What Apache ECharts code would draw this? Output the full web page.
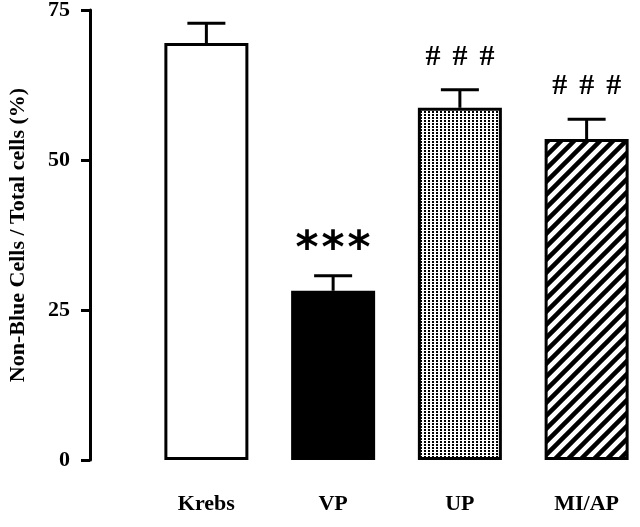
<!DOCTYPE html>
<html><head><meta charset="utf-8">
<script src="https://cdn.jsdelivr.net/npm/echarts@6/dist/echarts.min.js"></script>
<style>html,body{margin:0;padding:0;background:#fff}#c{width:640px;height:527px}</style>
</head><body><div id="c"></div>
<script>
const categories = ['Krebs', 'VP', 'UP', 'MI/AP'];
const means = [69.5, 28.2, 58.7, 53.5];
const errors = [3.3, 2.5, 3.0, 3.3];
const marks = ['', '***', '###', '###'];
const yTicks = [0, 25, 50, 75];

function dotPattern() {
  const c = document.createElement('canvas'); c.width = 4; c.height = 3;
  const g = c.getContext('2d');
  g.fillStyle = '#fff'; g.fillRect(0, 0, 4, 3);
  g.fillStyle = '#000'; g.fillRect(0, 0, 2, 2);
  return c;
}
function stripePattern() {
  const s = 13;
  const c = document.createElement('canvas'); c.width = s; c.height = s;
  const g = c.getContext('2d');
  g.fillStyle = '#fff'; g.fillRect(0, 0, s, s);
  g.strokeStyle = '#000'; g.lineWidth = 4.5;
  g.beginPath();
  g.moveTo(0, s); g.lineTo(s, 0);
  g.moveTo(-s / 2, s / 2); g.lineTo(s / 2, -s / 2);
  g.moveTo(s / 2, s * 1.5); g.lineTo(s * 1.5, s / 2);
  g.stroke();
  return c;
}
const fills = ['#ffffff', '#000000', { image: dotPattern(), repeat: 'repeat' }, { image: stripePattern(), repeat: 'repeat' }];
const serif = '"Liberation Serif", "Times New Roman", serif';

const chart = echarts.init(document.getElementById('c'), null, { renderer: 'canvas' });
chart.setOption({
  animation: false,
  backgroundColor: '#fff',
  grid: { left: 143, top: 10, width: 507, height: 450, containLabel: false, outerBoundsMode: 'none' },
  xAxis: {
    type: 'category', data: categories,
    axisLine: { show: false }, axisTick: { show: false },
    axisLabel: { margin: 33, color: '#000', fontFamily: serif, fontWeight: 'bold', fontSize: 22 }
  },
  yAxis: {
    type: 'value', min: yTicks[0], max: yTicks[yTicks.length - 1], interval: 25, offset: 53,
    axisLine: { show: true, lineStyle: { color: '#000', width: 3 } },
    axisTick: { show: true, length: 9, lineStyle: { color: '#000', width: 3 } },
    splitLine: { show: false },
    axisLabel: { margin: 20, color: '#000', fontFamily: serif, fontWeight: 'bold', fontSize: 22 },
    name: 'Non-Blue Cells / Total cells (%)', nameLocation: 'middle', nameGap: 61,
    nameTextStyle: { color: '#000', fontFamily: serif, fontWeight: 'bold', fontSize: 22 }
  },
  series: [
    {
      type: 'bar', barWidth: 84,
      data: means.map((v, i) => ({ value: v, itemStyle: { color: fills[i] } })),
      itemStyle: { borderColor: '#000', borderWidth: 3 }
    },
    {
      type: 'custom', clip: false, z: 5,
      data: means.map((v, i) => [i, v, errors[i]]),
      encode: { x: 0, y: 1 },
      renderItem: function (params, api) {
        const i = api.value(0);
        const base = api.coord([i, api.value(1)]);
        const top = api.coord([i, api.value(1) + api.value(2)]);
        const hw = 19;
        const ls = { stroke: '#000', lineWidth: 3 };
        const children = [
          { type: 'line', shape: { x1: base[0], y1: base[1], x2: top[0], y2: top[1] }, style: ls },
          { type: 'line', shape: { x1: top[0] - hw, y1: top[1], x2: top[0] + hw, y2: top[1] }, style: ls }
        ];
        const m = marks[params.dataIndex];
        if (m) {
          const isStar = m[0] === '*';
          const sp = isStar ? 26 : 27;
          for (let k = 0; k < m.length; k++) {
            children.push({
              type: 'text',
              style: {
                text: m[k], x: top[0] + (k - 1) * sp, y: top[1] - 33 + (isStar ? 8 : 0),
                align: 'center', verticalAlign: 'middle', fill: '#000',
                font: isStar ? 'bold 44px "DejaVu Sans"' : 'bold 30px "Liberation Serif"'
              }
            });
          }
        }
        return { type: 'group', children: children };
      }
    }
  ]
});
</script></body></html>
